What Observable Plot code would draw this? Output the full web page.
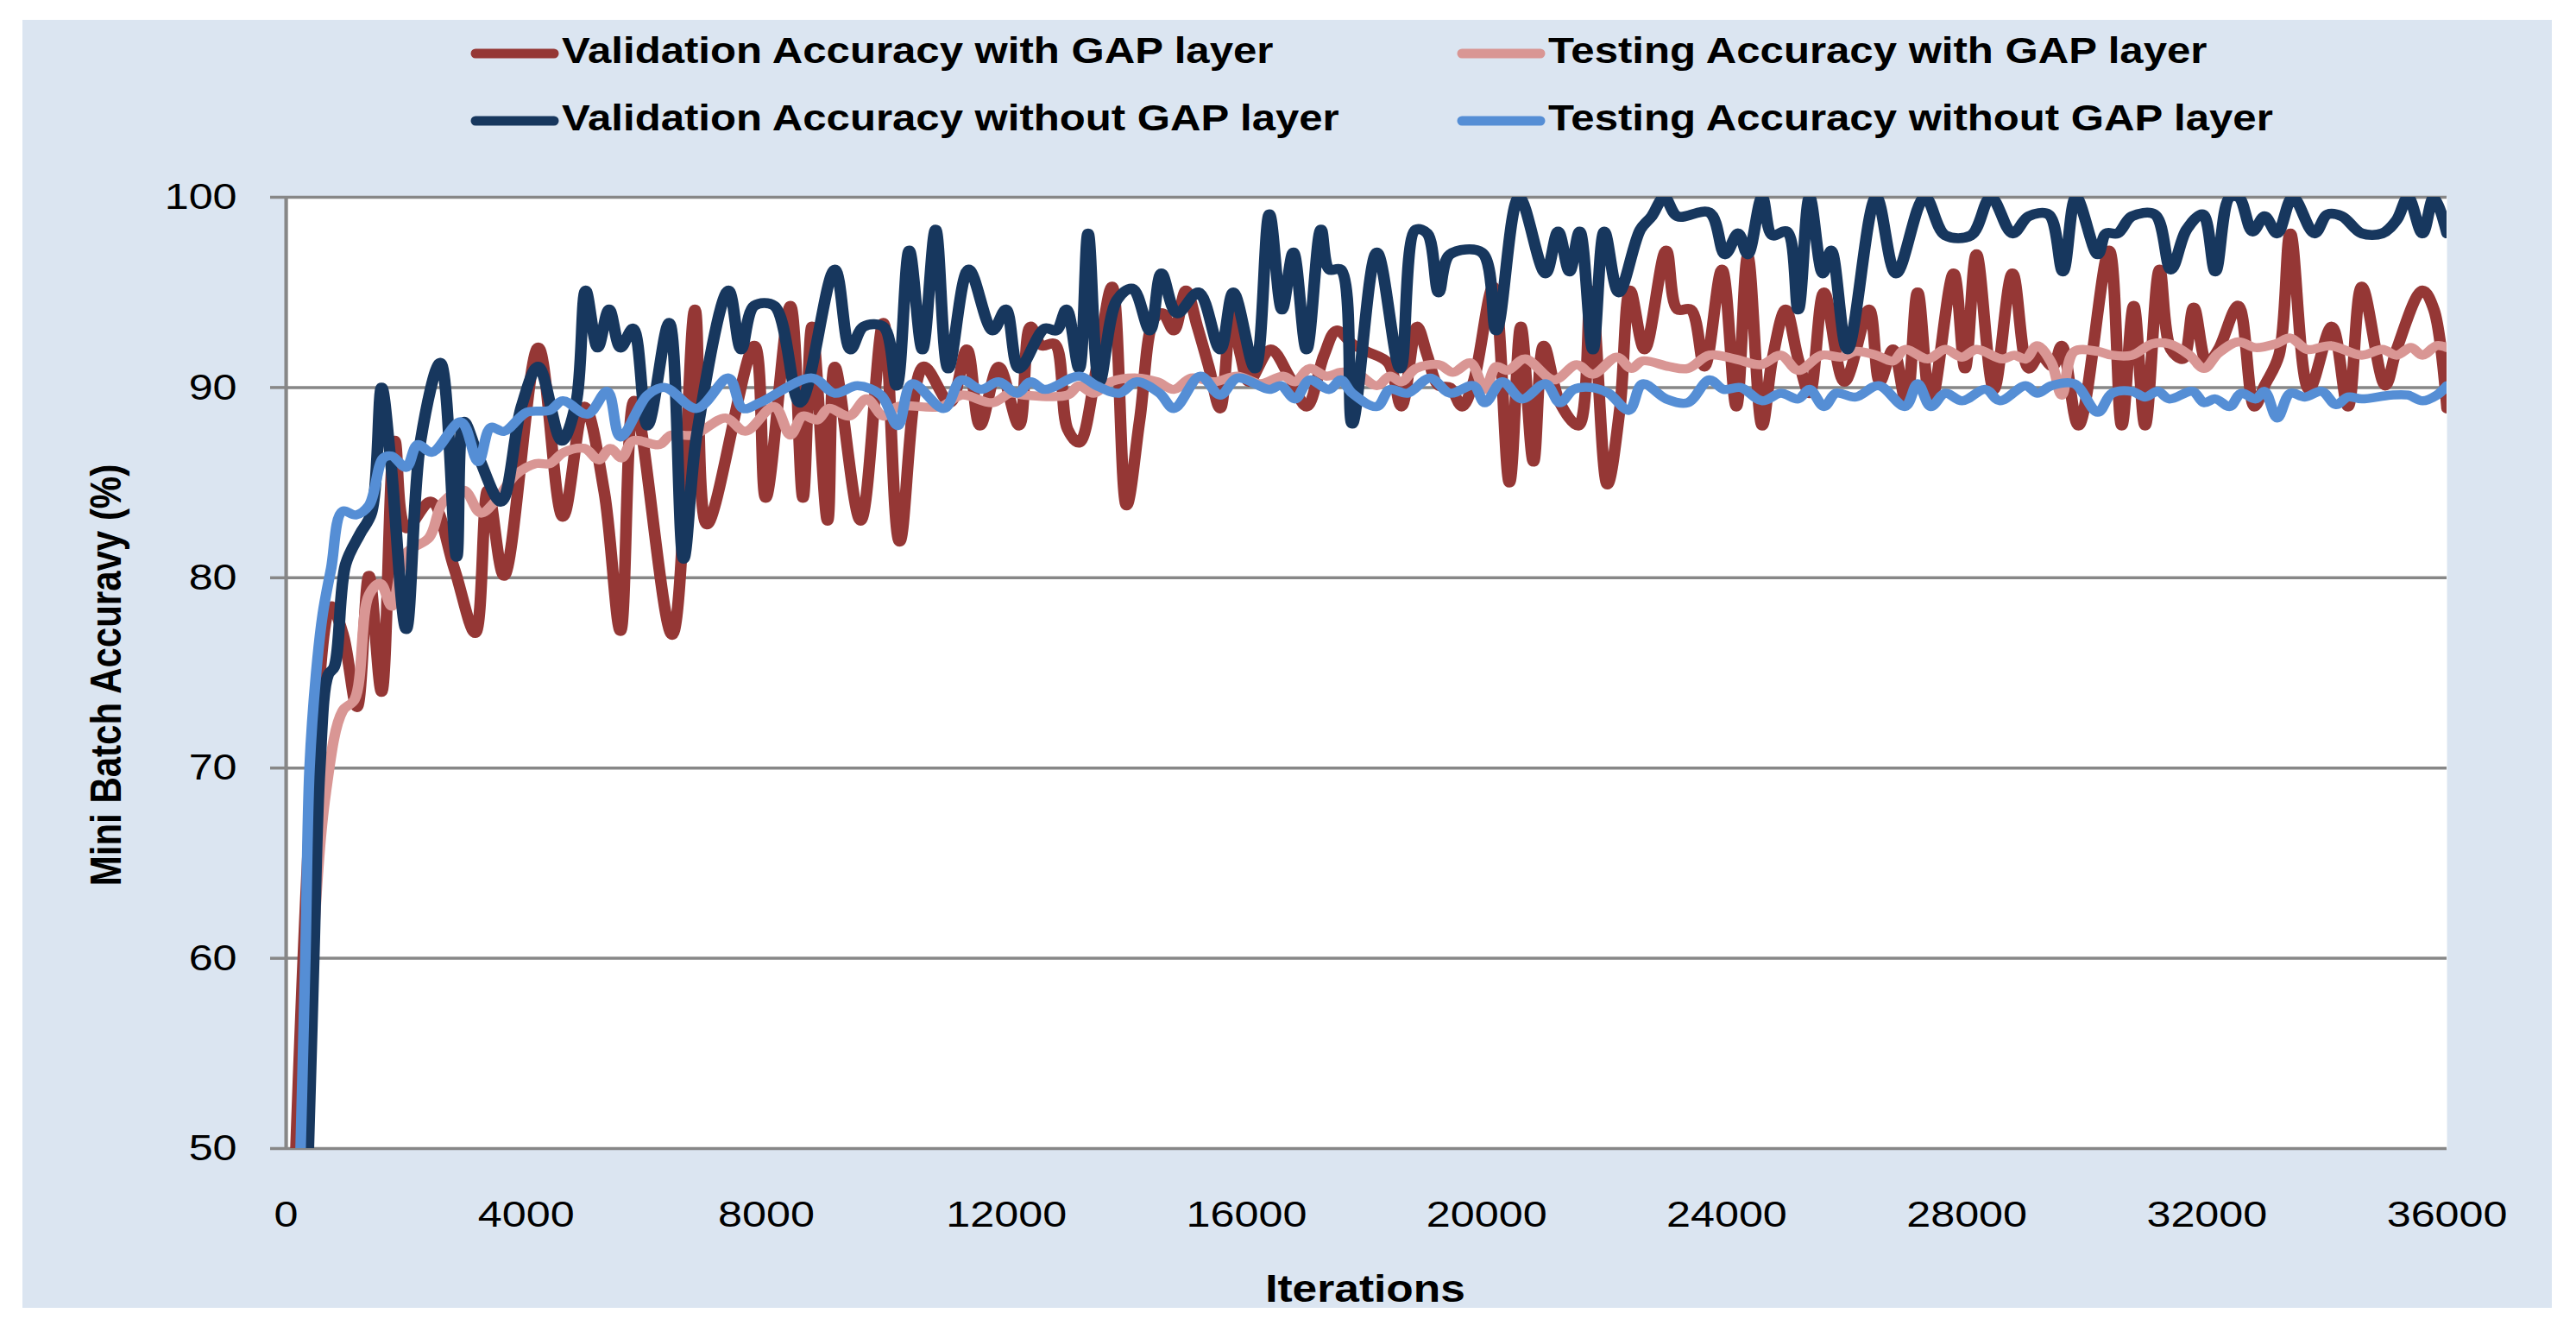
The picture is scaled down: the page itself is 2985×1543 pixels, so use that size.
<!DOCTYPE html>
<html><head><meta charset="utf-8">
<script src="https://cdn.jsdelivr.net/npm/d3@7"></script>
<script src="https://cdn.jsdelivr.net/npm/@observablehq/plot@0.6"></script>
<style>
html,body{margin:0;padding:0;background:#fff;width:2985px;height:1543px;overflow:hidden;}
#panel{position:absolute;left:26px;top:23px;width:2931px;height:1492px;background:#dbe5f1;}
#chart{position:absolute;left:26px;top:160px;}
#overlay{position:absolute;left:0;top:0;}
</style></head><body>
<div id="panel"></div>
<div id="chart"></div>
<svg id="overlay" width="2985" height="1543"></svg>
<script>
// ---- data: [iteration, mini batch accuracy %] ----
const valWithGap = [[100,44],[450,70],[750,78.5],[950,77],[1180,73.2],[1380,80.1],[1590,74.0],[1810,87.2],[2000,82.6],[2410,84.0],[2800,80.5],[3150,77.1],[3360,84.6],[3630,80.1],[4200,92.1],[4610,83.2],[4970,89.0],[5300,84.5],[5570,77.2],[5800,89.3],[6430,77.0],[6810,94.1],[7010,82.8],[7800,92.2],[7990,84.2],[8400,94.3],[8610,84.2],[8760,93.2],[9020,83.0],[9140,91.1],[9570,83.0],[9950,93.4],[10220,81.9],[10620,91.1],[11060,89.2],[11340,92.0],[11560,88.0],[11870,91.1],[12210,88.0],[12400,93.2],[12590,92.2],[12800,92.3],[13020,87.8],[13210,87.1],[13500,91.0],[13760,95.3],[14000,83.8],[14220,88.3],[14460,93.6],[14600,93.9],[14790,93.0],[14990,95.1],[15180,93.2],[15370,91.1],[15560,88.9],[15750,93.9],[15900,91.7],[16040,90.3],[16400,92.0],[16710,90.6],[17000,89.0],[17290,91.7],[17500,93.0],[17760,92.3],[18000,91.9],[18360,91.3],[18580,89.0],[18840,93.2],[19010,91.7],[19200,90.1],[19390,90.0],[19590,89.0],[19780,90.3],[20110,95.3],[20380,85.0],[20570,93.2],[20780,86.1],[20950,92.2],[21220,89.2],[21530,88.0],[21740,95.1],[22010,84.9],[22220,88.9],[22390,95.1],[22630,92.0],[22990,97.2],[23180,94.1],[23400,94.1],[23630,91.1],[23920,96.2],[24160,89.0],[24350,96.9],[24590,88.0],[24760,91.5],[24980,94.1],[25190,91.5],[25380,89.7],[25620,95.0],[25960,90.3],[26370,94.1],[26550,90.3],[26770,92.0],[26990,89.2],[27180,95.0],[27400,89.2],[27780,96.0],[27970,91.0],[28160,97.0],[28450,89.9],[28760,96.0],[29030,91.0],[29220,91.7],[29430,91.1],[29580,92.2],[29860,88.0],[30370,97.2],[30580,88.0],[30780,94.3],[30970,88.0],[31210,96.2],[31400,92.0],[31600,91.5],[31780,94.2],[32000,91.3],[32190,92.0],[32520,94.3],[32790,89.0],[32960,90.1],[33200,91.7],[33390,98.1],[33700,89.9],[34080,93.2],[34350,89.0],[34580,95.3],[34970,90.1],[35160,92.0],[35590,95.1],[35780,94.1],[36000,88.9]];

const testWithGap = [[250,45],[420,58.8],[660,68.7],[940,73.0],[1140,73.6],[1380,79.1],[1570,79.7],[1760,78.5],[2000,81.3],[2380,82.1],[2620,84.0],[2960,84.6],[3240,83.4],[3480,84.0],[3820,85.4],[4160,86.0],[4390,86.0],[4630,86.6],[4970,86.8],[5210,86.2],[5400,86.8],[5590,86.3],[5780,87.2],[6220,87.0],[6410,87.5],[6790,87.5],[7320,88.4],[7650,87.7],[8130,89.0],[8400,87.5],[8610,88.5],[8850,88.3],[9040,88.9],[9380,88.5],[9670,89.4],[9950,88.5],[10190,89.0],[10910,89.0],[11250,89.6],[11770,89.2],[12060,89.7],[12300,89.6],[13020,89.6],[13210,90.1],[13450,89.7],[13740,90.3],[14170,90.5],[14510,90.3],[14790,89.9],[15080,90.5],[15460,90.3],[15850,90.6],[16230,90.2],[16610,90.6],[16810,90.3],[17050,91.0],[17330,90.6],[17570,90.8],[17810,90.8],[18170,90.1],[18390,90.6],[18580,90.3],[18820,91.0],[19200,91.2],[19440,90.8],[19730,91.3],[19970,89.9],[20160,91.1],[20350,90.9],[20640,91.5],[21120,90.4],[21500,91.2],[21770,90.7],[22170,91.6],[22410,91.0],[22600,91.4],[23040,91.1],[23350,91.0],[23710,91.7],[24140,91.5],[24570,91.2],[24900,91.7],[25190,90.9],[25580,91.7],[25910,91.6],[26150,91.9],[26490,91.7],[26770,91.4],[26970,92.0],[27350,91.5],[27640,92.0],[27920,91.6],[28160,92.0],[28590,91.5],[28790,91.7],[28980,91.5],[29170,92.2],[29410,91.3],[29580,89.6],[29790,91.9],[30180,91.9],[30420,91.7],[30750,91.7],[31090,92.3],[31370,92.3],[31710,91.7],[31950,91.0],[32190,91.8],[32520,92.4],[32810,92.1],[33150,92.3],[33390,92.6],[33670,92.0],[34060,92.2],[34580,91.7],[34920,92.0],[35160,91.7],[35400,92.1],[35590,91.7],[35830,92.2],[36000,92.1]];

const valWithoutGap = [[300,45],[370,50],[460,60],[560,70],[700,74.9],[800,75.3],[990,80.7],[1230,82.3],[1420,83.4],[1590,90.0],[1740,86.2],[2000,77.3],[2240,87.2],[2570,91.3],[2840,81.1],[2960,88.2],[3200,86.4],[3580,84.0],[3920,89.0],[4200,91.1],[4590,87.2],[4830,89.2],[4990,95.1],[5190,92.1],[5380,94.1],[5570,92.1],[5780,93.1],[6020,88.0],[6380,93.4],[6620,81.0],[6840,87.5],[7370,95.1],[7580,92.0],[7800,94.3],[8130,94.3],[8560,89.2],[9140,96.2],[9400,92.0],[9620,93.2],[9950,93.2],[10170,90.1],[10380,97.2],[10600,92.0],[10820,98.3],[11030,91.0],[11370,96.2],[11770,93.0],[11990,94.1],[12210,91.0],[12640,93.1],[12830,93.0],[13000,94.1],[13210,91.0],[13360,98.1],[13550,90.3],[13840,94.6],[14100,95.2],[14390,93.0],[14580,96.0],[14840,93.9],[15200,95.0],[15560,92.0],[15780,95.0],[16140,91.0],[16380,99.1],[16590,94.1],[16780,97.1],[17000,92.0],[17240,98.3],[17380,96.2],[17570,96.2],[17760,88.1],[18170,97.1],[18560,91.0],[18820,98.3],[19010,98.1],[19200,95.0],[19390,97.0],[19920,97.1],[20160,93.0],[20540,100],[20980,96.0],[21190,98.2],[21380,96.1],[21550,98.2],[21770,92.0],[21960,98.2],[22200,95.0],[22560,98.3],[22750,99.0],[22960,100],[23180,99.0],[23710,99.2],[23970,97.0],[24190,98.1],[24350,97.0],[24590,100],[24760,98.0],[25000,98.2],[25190,94.1],[25380,100],[25600,96.0],[25740,97.2],[26010,92.0],[26490,100],[26820,96.0],[27300,100],[27640,98.0],[28070,98.0],[28400,100],[28760,98.1],[29030,99.0],[29360,99.1],[29600,96.1],[29820,100],[30180,97.0],[30320,98.1],[30510,98.1],[30750,99.0],[31130,99.1],[31400,96.2],[31660,98.3],[31930,99.1],[32140,96.1],[32380,100],[32530,100],[32760,98.2],[32960,99.0],[33170,98.1],[33430,100],[33790,98.1],[34010,99.1],[34250,99.0],[34580,98.1],[34920,98.1],[35160,98.8],[35350,100],[35590,98.1],[35780,100],[36000,98.1]];

const testWithoutGap = [[200,45],[320,60],[390,70],[500,75],[610,78.1],[750,80.5],[940,83.5],[1160,83.3],[1380,83.8],[1620,86.3],[1760,86.4],[2000,85.8],[2190,87.0],[2430,86.6],[2910,88.2],[3200,86.1],[3410,87.9],[3630,87.7],[4010,88.7],[4390,88.8],[4610,89.3],[5020,88.6],[5350,89.8],[5570,87.4],[6020,89.6],[6310,90.0],[6840,88.9],[7370,90.5],[7610,88.9],[7890,89.2],[8760,90.5],[9140,89.7],[9520,90.1],[9910,89.6],[10190,88.0],[10430,90.2],[10960,88.9],[11250,90.4],[11580,89.9],[11870,90.3],[12180,89.7],[12400,90.3],[12640,89.9],[13210,90.6],[13500,90.1],[13880,89.7],[14170,90.3],[14550,89.7],[14790,88.9],[15230,90.6],[15560,89.6],[15850,90.5],[16380,89.9],[16570,90.1],[16810,89.4],[17050,90.4],[17380,89.9],[17570,90.4],[17760,89.7],[18170,89.0],[18390,89.9],[18680,89.7],[19060,90.5],[19390,89.7],[19780,90.1],[19970,89.2],[20260,90.3],[20590,89.4],[20980,90.2],[21220,89.2],[21450,89.9],[21740,90.0],[22030,89.7],[22370,88.8],[22600,90.2],[22990,89.4],[23350,89.2],[23710,90.4],[23950,89.9],[24230,90.0],[24590,89.3],[24900,89.7],[25190,89.4],[25380,89.9],[25620,89.0],[25820,89.7],[26150,89.5],[26530,90.1],[26970,89.0],[27180,90.2],[27400,89.0],[27640,89.7],[27920,89.3],[28310,89.9],[28550,89.3],[28980,90.1],[29170,89.7],[29410,90.1],[29790,90.2],[30180,88.7],[30420,89.7],[30750,89.8],[30970,89.5],[31180,89.8],[31370,89.4],[31760,89.8],[31950,89.2],[32140,89.4],[32380,89.0],[32570,89.7],[32810,89.4],[32960,89.8],[33170,88.4],[33390,89.7],[33630,89.5],[33910,89.8],[34150,89.1],[34350,89.5],[34580,89.4],[35060,89.6],[35350,89.6],[35590,89.3],[35830,89.6],[36000,90.1]];

const seriesNames = ["Validation Accuracy with GAP layer","Testing Accuracy with GAP layer","Validation Accuracy without GAP layer","Testing Accuracy without GAP layer"];
const seriesColors = ["#953735","#d99694","#17375e","#558ed5"];
const seriesWidths = [11.5, 10.5, 11.5, 10.5];
const seriesData = [valWithGap, testWithGap, valWithoutGap, testWithoutGap];
const xTicks = [0,4000,8000,12000,16000,20000,24000,28000,32000,36000];
const yTicks = [50,60,70,80,90,100];
const xTitle = "Iterations";
const yTitle = "Mini Batch Accuravy (%)";

// ---- layout ----
const S = 1.17;              // horizontal stretch of the original picture
const outW = 2931, H = 1355;
const W = outW / S;
const grid = "#878787";
const font = "'Liberation Sans', Arial, sans-serif";

const lineMarks = seriesData.map((d, i) => Plot.line(
  d.map(([it, acc]) => ({iteration: it, accuracy: acc, series: seriesNames[i]})),
  {x: "iteration", y: "accuracy", stroke: seriesColors[i], strokeWidth: seriesWidths[i],
   curve: "catmull-rom", clip: true, strokeLinejoin: "round", strokeLinecap: "round"}
));

const chart = Plot.plot({
  width: W, height: H,
  marginLeft: 305 / S, marginRight: 122 / S, marginTop: 68, marginBottom: 185,
  style: {fontFamily: font, fontSize: "43px", color: "#000", background: "transparent", maxWidth: "none"},
  x: {domain: [0, 36000], ticks: xTicks, tickFormat: d => String(d), label: null},
  y: {domain: [50, 100], ticks: yTicks, label: null},
  marks: [
    Plot.frame({fill: "white", stroke: "none"}),
    Plot.gridY(yTicks, {stroke: grid, strokeOpacity: 1, strokeWidth: 3.5}),
    Plot.ruleX([0], {stroke: grid, strokeWidth: 4.2 / S}),
    Plot.axisY(yTicks, {tickSize: 18 / S, tickPadding: 39 / S, stroke: grid, strokeWidth: 3.5, strokeOpacity: 1, fill: "#000", fontSize: 43}),
    Plot.axisX(xTicks, {tickSize: 0, tickPadding: 60, fill: "#000", fontSize: 43, tickFormat: d => String(d)}),
    ...lineMarks
  ]
});
chart.setAttribute("preserveAspectRatio", "none");
chart.style.width = outW + "px";
chart.style.height = H + "px";
chart.style.maxWidth = "none";
document.getElementById("chart").appendChild(chart);

// ---- legend and axis titles ----
const ov = d3.select("#overlay");
const legendPos = [[546, 62], [1689, 62], [546, 140], [1689, 140]];
seriesNames.forEach((name, i) => {
  const [lx, ly] = legendPos[i];
  ov.append("line").attr("x1", lx + 5).attr("x2", lx + 96).attr("y1", ly).attr("y2", ly)
    .attr("stroke", seriesColors[i]).attr("stroke-width", 11).attr("stroke-linecap", "round");
  ov.append("g").attr("transform", `translate(${lx + 105},${ly + 11}) scale(${S},1)`)
    .append("text").text(name)
    .attr("font-family", font).attr("font-weight", "bold").attr("font-size", 42).attr("fill", "#000");
});
ov.append("g").attr("transform", `translate(1582,1508) scale(${S},1)`)
  .append("text").text(xTitle).attr("text-anchor", "middle")
  .attr("font-family", font).attr("font-weight", "bold").attr("font-size", 44).attr("fill", "#000");
ov.append("g").attr("transform", `translate(140,782) scale(${S},1) rotate(-90)`)
  .append("text").text(yTitle).attr("text-anchor", "middle")
  .attr("font-family", font).attr("font-weight", "bold").attr("font-size", 42).attr("fill", "#000");
</script>
</body></html>
